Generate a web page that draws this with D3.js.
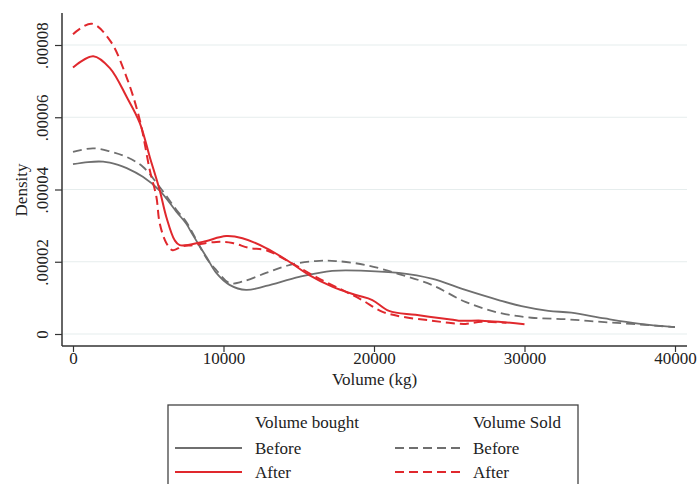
<!DOCTYPE html>
<html>
<head>
<meta charset="utf-8">
<script src="https://cdn.jsdelivr.net/npm/d3@7"></script>
<style>
  html, body { margin: 0; padding: 0; background: #fff; }
  svg { display: block; font-family: "Liberation Serif", "Times New Roman", serif; }
</style>
</head>
<body>
<svg id="chart" width="700" height="484"></svg>
<script>
// ---- data (volume in kg, density) ----
const beforeBoughtX = [0, 1000, 2000, 3000, 3570, 4640, 5760, 6880, 7530, 7950, 8870, 9520, 10400, 11500, 12830, 15030, 17220, 19450, 21650, 23840, 26070, 28280, 29800, 31590, 33110, 35340, 37550, 40000];
const beforeBoughtY = [4.70e-5, 4.76e-5, 4.77e-5, 4.68e-5, 4.59e-5, 4.35e-5, 3.97e-5, 3.38e-5, 3.05e-5, 2.75e-5, 2.13e-5, 1.69e-5, 1.36e-5, 1.22e-5, 1.33e-5, 1.58e-5, 1.75e-5, 1.75e-5, 1.69e-5, 1.53e-5, 1.22e-5, 0.94e-5, 0.77e-5, 0.64e-5, 0.59e-5, 0.43e-5, 0.29e-5, 0.19e-5];

const beforeSoldX = [0, 1320, 2500, 3570, 4640, 5760, 6880, 7530, 8870, 9520, 10400, 11260, 12830, 14370, 16140, 17460, 19450, 21650, 23840, 26070, 28280, 30460, 32700, 34900, 37100, 40000];
const beforeSoldY = [5.04e-5, 5.14e-5, 5.05e-5, 4.90e-5, 4.63e-5, 4.07e-5, 3.43e-5, 3.10e-5, 2.10e-5, 1.77e-5, 1.41e-5, 1.45e-5, 1.69e-5, 1.91e-5, 2.02e-5, 2.02e-5, 1.91e-5, 1.66e-5, 1.36e-5, 0.89e-5, 0.59e-5, 0.45e-5, 0.41e-5, 0.34e-5, 0.28e-5, 0.19e-5];

const afterBoughtX = [0, 1350, 2450, 3570, 4440, 5100, 5760, 6200, 6750, 7090, 8610, 10180, 11260, 12830, 14370, 15700, 17220, 18790, 19890, 21000, 22760, 24970, 25630, 27150, 28280, 30000];
const afterBoughtY = [7.38e-5, 7.69e-5, 7.36e-5, 6.56e-5, 5.84e-5, 4.90e-5, 3.98e-5, 3.24e-5, 2.60e-5, 2.46e-5, 2.55e-5, 2.71e-5, 2.65e-5, 2.38e-5, 2.00e-5, 1.63e-5, 1.31e-5, 1.08e-5, 0.94e-5, 0.64e-5, 0.53e-5, 0.41e-5, 0.37e-5, 0.37e-5, 0.34e-5, 0.27e-5];

const afterSoldX = [0, 1240, 2450, 3550, 4440, 5100, 5540, 5760, 6200, 6620, 7290, 7950, 9520, 10600, 11720, 12830, 14370, 16140, 17880, 19210, 20530, 21850, 23840, 24970, 26070, 27150, 28800];
const afterSoldY = [8.30e-5, 8.59e-5, 8.13e-5, 7.12e-5, 5.92e-5, 4.54e-5, 3.80e-5, 3.07e-5, 2.52e-5, 2.32e-5, 2.43e-5, 2.46e-5, 2.55e-5, 2.52e-5, 2.38e-5, 2.32e-5, 2.00e-5, 1.58e-5, 1.22e-5, 0.94e-5, 0.62e-5, 0.48e-5, 0.37e-5, 0.31e-5, 0.28e-5, 0.34e-5, 0.31e-5];

const xTicks = [0, 10000, 20000, 30000, 40000];
const yTicks = [0, 0.00002, 0.00004, 0.00006, 0.00008];
const yTickLabels = ["0", ".00002", ".00004", ".00006", ".00008"];
const xTitle = "Volume (kg)";
const yTitle = "Density";
const legendHeaders = ["Volume bought", "Volume Sold"];
const legendRows = ["Before", "After"];

// ---- layout ----
const svg = d3.select("#chart");
const x = d3.scaleLinear().domain([0, 40000]).range([73, 675]);
const y = d3.scaleLinear().domain([0, 0.00008]).range([334, 45]);
const plotLeft = 62, plotRight = 687, plotTop = 13, plotBottom = 346;

const GRAY = "#6f6f6f", RED = "#e0282d";
const DASH = "9,5";

// gridlines
svg.append("g").selectAll("line").data(yTicks).join("line")
  .attr("x1", plotLeft + 1).attr("x2", plotRight)
  .attr("y1", d => y(d)).attr("y2", d => y(d))
  .attr("stroke", "#e6eded").attr("stroke-width", 1.2);

// y axis
const yAxis = svg.append("g").attr("transform", `translate(${plotLeft},0)`)
  .call(d3.axisLeft(y).tickValues(yTicks).tickSize(7).tickFormat((d, i) => yTickLabels[i]));
yAxis.select(".domain").remove();
yAxis.selectAll(".tick line").attr("stroke", "#333").attr("stroke-width", 1.2);
yAxis.selectAll(".tick text")
  .attr("x", 0).attr("y", 0).attr("dy", 0)
  .attr("transform", "translate(-14,0) rotate(-90)")
  .attr("text-anchor", "middle")
  .attr("font-size", 17).attr("fill", "#222")
  .attr("font-family", "Liberation Serif, Times New Roman, serif");
svg.append("line").attr("x1", plotLeft).attr("x2", plotLeft).attr("y1", plotTop).attr("y2", plotBottom)
  .attr("stroke", "#333").attr("stroke-width", 1.5);

// x axis
const xAxis = svg.append("g").attr("transform", `translate(0,${plotBottom})`)
  .call(d3.axisBottom(x).tickValues(xTicks).tickSize(6).tickFormat(d3.format("d")));
xAxis.select(".domain").remove();
xAxis.selectAll(".tick line").attr("stroke", "#333").attr("stroke-width", 1.2);
xAxis.selectAll(".tick text")
  .attr("y", 6).attr("dy", "0.71em")
  .attr("font-size", 17).attr("fill", "#222")
  .attr("font-family", "Liberation Serif, Times New Roman, serif");
svg.append("line").attr("x1", plotLeft).attr("x2", plotRight).attr("y1", plotBottom).attr("y2", plotBottom)
  .attr("stroke", "#333").attr("stroke-width", 1.5);

// titles
svg.append("text").attr("x", (plotLeft + plotRight) / 2).attr("y", 385)
  .attr("text-anchor", "middle").attr("font-size", 17).attr("fill", "#222").text(xTitle);
svg.append("text").attr("transform", "translate(27,190) rotate(-90)")
  .attr("text-anchor", "middle").attr("font-size", 17).attr("fill", "#222").text(yTitle);

// curves
const line = d3.line().x(d => x(d[0])).y(d => y(d[1])).curve(d3.curveCatmullRom.alpha(0.5));
const series = [
  { xs: beforeSoldX, ys: beforeSoldY, color: GRAY, dash: DASH },
  { xs: beforeBoughtX, ys: beforeBoughtY, color: GRAY, dash: null },
  { xs: afterSoldX, ys: afterSoldY, color: RED, dash: DASH },
  { xs: afterBoughtX, ys: afterBoughtY, color: RED, dash: null }
];
series.forEach(s => {
  const pts = s.xs.map((v, i) => [v, s.ys[i]]);
  svg.append("path").datum(pts)
    .attr("d", line)
    .attr("fill", "none")
    .attr("stroke", s.color)
    .attr("stroke-width", s.color === RED ? 2 : 1.8)
    .attr("stroke-dasharray", s.dash)
    .attr("stroke-linejoin", "round");
});

// legend
const lg = svg.append("g");
lg.append("rect").attr("x", 168).attr("y", 405).attr("width", 410).attr("height", 100)
  .attr("fill", "#fff").attr("stroke", "#444").attr("stroke-width", 1.3);
lg.append("text").attr("x", 255).attr("y", 428).attr("font-size", 17).attr("fill", "#222").text(legendHeaders[0]);
lg.append("text").attr("x", 473).attr("y", 428).attr("font-size", 17).attr("fill", "#222").text(legendHeaders[1]);
const legendItems = [
  { x1: 175, tx: 255, row: 0, color: GRAY, dash: null },
  { x1: 175, tx: 255, row: 1, color: RED, dash: null },
  { x1: 395, tx: 473, row: 0, color: GRAY, dash: DASH },
  { x1: 395, tx: 473, row: 1, color: RED, dash: DASH }
];
const rowY = [448, 472];
legendItems.forEach(it => {
  lg.append("line").attr("x1", it.x1).attr("x2", it.x1 + 67)
    .attr("y1", rowY[it.row]).attr("y2", rowY[it.row])
    .attr("stroke", it.color).attr("stroke-width", it.color === RED ? 2 : 1.8)
    .attr("stroke-dasharray", it.dash);
  lg.append("text").attr("x", it.tx).attr("y", rowY[it.row] + 6)
    .attr("font-size", 17).attr("fill", "#222").text(legendRows[it.row]);
});
</script>
</body>
</html>
